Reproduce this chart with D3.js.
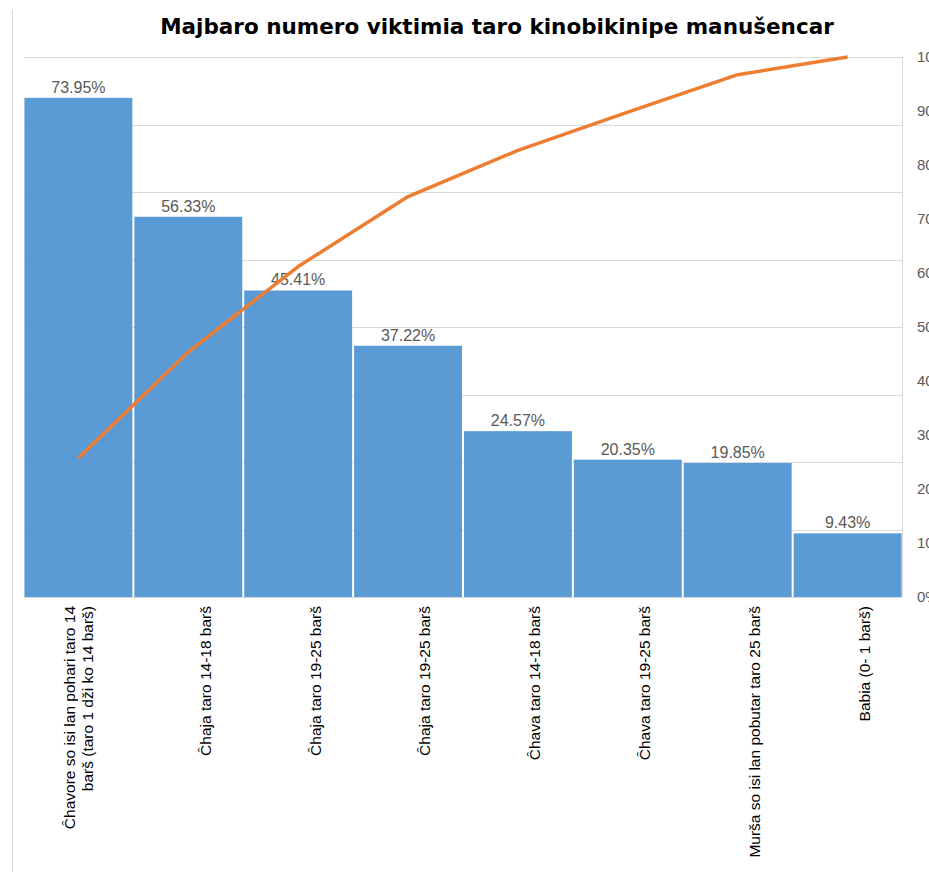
<!DOCTYPE html>
<html>
<head>
<meta charset="utf-8">
<script src="https://cdn.jsdelivr.net/npm/d3@7"></script>
<style>
    body { margin: 0; background: #fff; }
    svg { display: block; font-family: "Liberation Sans", Arial, sans-serif; }
</style>
</head>
<body>
<div class="chart"></div>
<script>
const title = "Majbaro numero viktimia taro kinobikinipe manušencar";

const categories = [
    ["Ĉhavore so isi lan pohari taro 14", "barš (taro 1 dži ko 14 barš)"],
    ["Ĉhaja taro 14-18 barš"],
    ["Ĉhaja taro 19-25 barš"],
    ["Ĉhaja taro 19-25 barš"],
    ["Ĉhava taro 14-18 barš"],
    ["Ĉhava taro 19-25 barš"],
    ["Murša so isi lan pobutar taro 25 barš"],
    ["Babia (0- 1 barš)"]
];

// bar values (%)
const values = [73.95, 56.33, 45.41, 37.22, 24.57, 20.35, 19.85, 9.43];

// cumulative line (%)
const cumulative = [25.76, 45.38, 61.19, 74.16, 82.71, 89.80, 96.72, 100];

const leftTicks = [0, 10, 20, 30, 40, 50, 60, 70, 80];
const rightTicks = [0, 10, 20, 30, 40, 50, 60, 70, 80, 90, 100];

function drawChart() {
    const w = 929;
    const h = 872;
    const plot = { left: 24, right: 902, top: 57, bottom: 597 };

    const svg = d3.select('.chart')
        .append('svg')
        .attr('width', w)
        .attr('height', h);

    svg.append('rect')
        .attr('width', w)
        .attr('height', h)
        .attr('fill', '#fff');

    // frame edge on the left
    svg.append('line')
        .attr('x1', 12.5).attr('x2', 12.5)
        .attr('y1', 10).attr('y2', h)
        .attr('stroke', '#d9d9d9');

    svg.append('text')
        .attr('x', 497)
        .attr('y', 34)
        .attr('text-anchor', 'middle')
        .attr('font-family', '"DejaVu Sans", sans-serif')
        .attr('font-weight', 'bold')
        .attr('font-size', 21.5)
        .attr('fill', '#000')
        .text(title);

    const xScale = d3.scaleBand()
        .domain(d3.range(values.length))
        .range([plot.left, plot.right])
        .paddingInner(0.018)
        .paddingOuter(0.004);

    const yLeft = d3.scaleLinear()
        .domain([0, 80])
        .range([plot.bottom, plot.top]);

    const yRight = d3.scaleLinear()
        .domain([0, 100])
        .range([plot.bottom, plot.top]);

    // gridlines
    svg.append('g')
        .selectAll('line')
        .data(leftTicks)
        .enter()
        .append('line')
        .attr('x1', plot.left)
        .attr('x2', plot.right)
        .attr('y1', d => Math.round(yLeft(d)) + 0.5)
        .attr('y2', d => Math.round(yLeft(d)) + 0.5)
        .attr('stroke', '#d9d9d9');

    svg.append('line')
        .attr('x1', plot.right + 0.5).attr('x2', plot.right + 0.5)
        .attr('y1', plot.top).attr('y2', plot.bottom)
        .attr('stroke', '#d9d9d9');

    // right axis labels (clipped by the window edge, as in the original)
    svg.append('g')
        .selectAll('text')
        .data(rightTicks)
        .enter()
        .append('text')
        .attr('x', 917)
        .attr('y', d => yRight(d))
        .attr('dy', '0.35em')
        .attr('font-size', 15)
        .attr('fill', '#595959')
        .text(d => d + '%');

    // bars
    svg.append('g')
        .selectAll('rect')
        .data(values)
        .enter()
        .append('rect')
        .attr('x', (d, i) => xScale(i))
        .attr('y', d => yLeft(d))
        .attr('width', xScale.bandwidth())
        .attr('height', d => plot.bottom - yLeft(d))
        .attr('fill', '#5b9bd5');

    // bar value labels
    svg.append('g')
        .selectAll('text')
        .data(values)
        .enter()
        .append('text')
        .attr('x', (d, i) => xScale(i) + xScale.bandwidth() / 2)
        .attr('y', d => yLeft(d) - 5)
        .attr('text-anchor', 'middle')
        .attr('font-size', 16)
        .attr('fill', '#595959')
        .text(d => d.toFixed(2) + '%');

    // cumulative line
    const line = d3.line()
        .x((d, i) => xScale(i) + xScale.bandwidth() / 2)
        .y(d => yRight(d));

    svg.append('path')
        .datum(cumulative)
        .attr('d', line)
        .attr('fill', 'none')
        .attr('stroke', '#ed7d31')
        .attr('stroke-width', 3.5)
        .attr('stroke-linejoin', 'round');

    // category labels, rotated
    const labels = svg.append('g')
        .selectAll('g')
        .data(categories)
        .enter()
        .append('g')
        .attr('transform', (d, i) => {
            const cx = xScale(i) + xScale.bandwidth() / 2;
            const off = d.length > 1 ? 0 : 17;
            return 'translate(' + (cx + off) + ',' + 606 + ') rotate(-90)';
        });

    labels.selectAll('text')
        .data(d => d.map((t, j) => ({ t: t, j: j, n: d.length })))
        .enter()
        .append('text')
        .attr('x', 0)
        .attr('y', d => (d.j - (d.n - 1) / 2) * 18)
        .attr('dy', '0.35em')
        .attr('text-anchor', 'end')
        .attr('font-size', 15.5)
        .attr('fill', '#000')
        .text(d => d.t);
}

drawChart();
</script>
</body>
</html>
